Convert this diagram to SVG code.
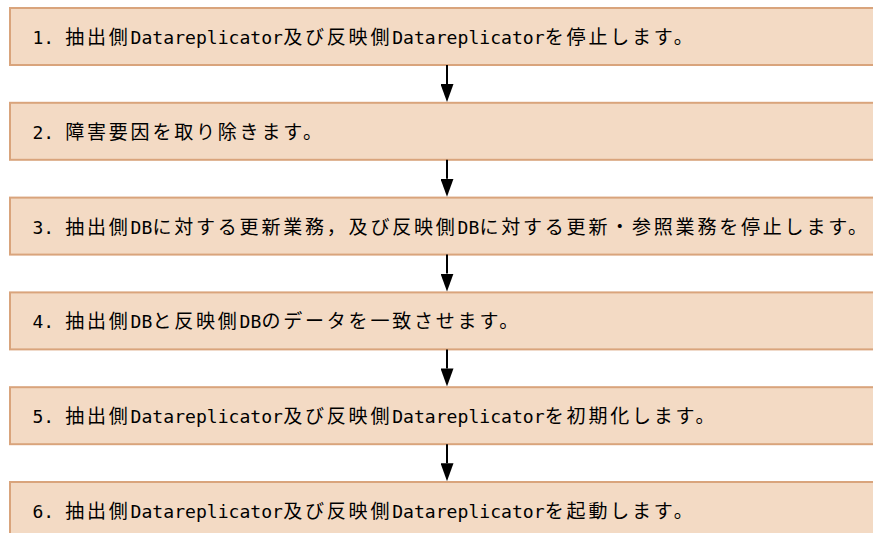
<svg xmlns="http://www.w3.org/2000/svg" width="873" height="533" viewBox="0 0 873 533">
<defs>
<style>
.box{fill:#f3dac4;stroke:#d9a47c;stroke-width:2}
.t{fill:#000}
.lat{font-family:"DejaVu Sans Mono","Liberation Mono",monospace;font-size:18px}
.cjk{font-family:"Noto Sans CJK JP","Noto Sans CJK SC",sans-serif;font-size:19px;letter-spacing:2.8px}
.arr{stroke:#000;stroke-width:2;fill:none;marker-end:url(#ah)}
</style>
<marker id="ah" viewBox="0 0 18 13" refX="0" refY="6.5" markerWidth="18" markerHeight="13" markerUnits="userSpaceOnUse" orient="auto">
<path d="M0,0 L18,6.5 L0,13 Z" fill="#000"/>
</marker>
</defs>
<rect width="873" height="533" fill="#ffffff"/>

<g id="step1">
<rect class="box" x="10" y="8" width="880" height="57"/>
<text class="t" y="44"><tspan class="lat" x="32.5" textLength="32.5" lengthAdjust="spacingAndGlyphs">1. </tspan><tspan class="cjk" x="65.2">抽出側</tspan><tspan class="lat" x="130.6" textLength="152.4" lengthAdjust="spacingAndGlyphs">Datareplicator</tspan><tspan class="cjk" x="283.2">及び反映側</tspan><tspan class="lat" x="392.2" textLength="152.4" lengthAdjust="spacingAndGlyphs">Datareplicator</tspan><tspan class="cjk" x="544.8">を停止します。</tspan></text>
</g>

<g id="step2">
<rect class="box" x="10" y="102.8" width="880" height="57"/>
<text class="t" y="138.8"><tspan class="lat" x="32.5" textLength="32.5" lengthAdjust="spacingAndGlyphs">2. </tspan><tspan class="cjk" x="65.2">障害要因を取り除きます。</tspan></text>
</g>

<g id="step3">
<rect class="box" x="10" y="197.6" width="880" height="57"/>
<text class="t" y="233.6"><tspan class="lat" x="32.5" textLength="32.5" lengthAdjust="spacingAndGlyphs">3. </tspan><tspan class="cjk" x="65.2">抽出側</tspan><tspan class="lat" x="130.6" textLength="21.7" lengthAdjust="spacingAndGlyphs">DB</tspan><tspan class="cjk" x="152.4">に対する更新業務，及び反映側</tspan><tspan class="lat" x="457.6" textLength="21.7" lengthAdjust="spacingAndGlyphs">DB</tspan><tspan class="cjk" x="479.4">に対する更新・参照業務を停止します。</tspan></text>
</g>

<g id="step4">
<rect class="box" x="10" y="292.4" width="880" height="57"/>
<text class="t" y="328.4"><tspan class="lat" x="32.5" textLength="32.5" lengthAdjust="spacingAndGlyphs">4. </tspan><tspan class="cjk" x="65.2">抽出側</tspan><tspan class="lat" x="130.6" textLength="21.7" lengthAdjust="spacingAndGlyphs">DB</tspan><tspan class="cjk" x="152.4">と反映側</tspan><tspan class="lat" x="239.6" textLength="21.7" lengthAdjust="spacingAndGlyphs">DB</tspan><tspan class="cjk" x="261.4">のデータを一致させます。</tspan></text>
</g>

<g id="step5">
<rect class="box" x="10" y="387.2" width="880" height="57"/>
<text class="t" y="423.2"><tspan class="lat" x="32.5" textLength="32.5" lengthAdjust="spacingAndGlyphs">5. </tspan><tspan class="cjk" x="65.2">抽出側</tspan><tspan class="lat" x="130.6" textLength="152.4" lengthAdjust="spacingAndGlyphs">Datareplicator</tspan><tspan class="cjk" x="283.2">及び反映側</tspan><tspan class="lat" x="392.2" textLength="152.4" lengthAdjust="spacingAndGlyphs">Datareplicator</tspan><tspan class="cjk" x="544.8">を初期化します。</tspan></text>
</g>

<g id="step6">
<rect class="box" x="10" y="482" width="880" height="57"/>
<text class="t" y="518"><tspan class="lat" x="32.5" textLength="32.5" lengthAdjust="spacingAndGlyphs">6. </tspan><tspan class="cjk" x="65.2">抽出側</tspan><tspan class="lat" x="130.6" textLength="152.4" lengthAdjust="spacingAndGlyphs">Datareplicator</tspan><tspan class="cjk" x="283.2">及び反映側</tspan><tspan class="lat" x="392.2" textLength="152.4" lengthAdjust="spacingAndGlyphs">Datareplicator</tspan><tspan class="cjk" x="544.8">を起動します。</tspan></text>
</g>

<g id="connectors">
<path class="arr" d="M447,65 V84"/>
<path class="arr" d="M447,159.8 V178.8"/>
<path class="arr" d="M447,254.6 V273.6"/>
<path class="arr" d="M447,349.4 V368.4"/>
<path class="arr" d="M447,444.2 V463.2"/>
</g>
</svg>
